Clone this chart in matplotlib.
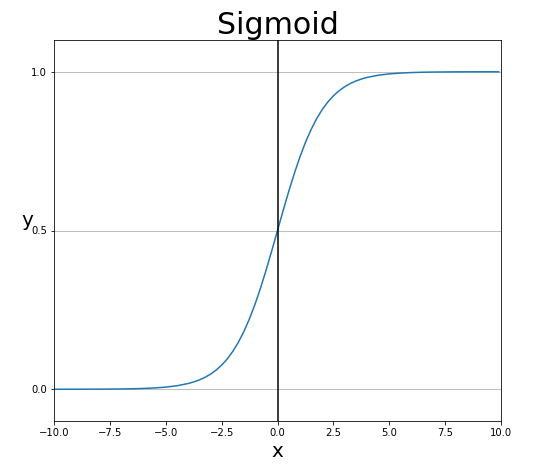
import matplotlib
matplotlib.use("Agg")
import matplotlib.pyplot as plt

# valores (curva sigmoide), mas densos en el centro
x_vals = [-10.0, -9.5, -9.0, -8.5, -8.0, -7.5, -7.0, -6.5, -6.0, -5.5, -5.0, -4.5,
          -4.0, -3.75, -3.5, -3.25, -3.0, -2.75, -2.5, -2.25, -2.0, -1.75, -1.5, -1.25,
          -1.0, -0.75, -0.5, -0.25, 0.0, 0.25, 0.5, 0.75, 1.0, 1.25, 1.5, 1.75,
          2.0, 2.25, 2.5, 2.75, 3.0, 3.25, 3.5, 3.75, 4.0,
          4.5, 5.0, 5.5, 6.0, 6.5, 7.0, 7.5, 8.0, 8.5, 9.0, 9.5, 9.9]
y_vals = [0.0000, 0.0001, 0.0001, 0.0002, 0.0003, 0.0006, 0.0009, 0.0015, 0.0025, 0.0041, 0.0067, 0.0110,
          0.0180, 0.0230, 0.0293, 0.0373, 0.0474, 0.0601, 0.0759, 0.0953, 0.1192, 0.1480, 0.1824, 0.2227,
          0.2689, 0.3208, 0.3775, 0.4378, 0.5000, 0.5622, 0.6225, 0.6792, 0.7311, 0.7773, 0.8176, 0.8520,
          0.8808, 0.9047, 0.9241, 0.9399, 0.9526, 0.9627, 0.9707, 0.9770, 0.9820,
          0.9890, 0.9933, 0.9959, 0.9975, 0.9985, 0.9991, 0.9994, 0.9997, 0.9998, 0.9999, 0.9999, 0.9999]
y_ticks = [0.0, 0.5, 1.0]

fig = plt.figure(figsize=(553 / 72, 472 / 72), dpi=72)
ax = fig.add_axes([54 / 553, 1 - 421 / 472, (501 - 54) / 553, (421 - 40) / 472])

ax.plot(x_vals, y_vals, color="tab:blue", linewidth=1.5)
ax.axvline(0, color="black", linewidth=1.5)

ax.set_xlim(-10, 10)
ax.set_ylim(-0.1, 1.1)
ax.set_yticks(y_ticks)
ax.grid(axis="y", color="#b0b0b0", linewidth=0.8)
ax.tick_params(labelsize=10)

ax.set_title("Sigmoid", fontsize=30)
ax.set_xlabel("x", fontsize=20)
ax.set_ylabel("y", fontsize=20, rotation=0)

fig.savefig("out.png", dpi=72)
